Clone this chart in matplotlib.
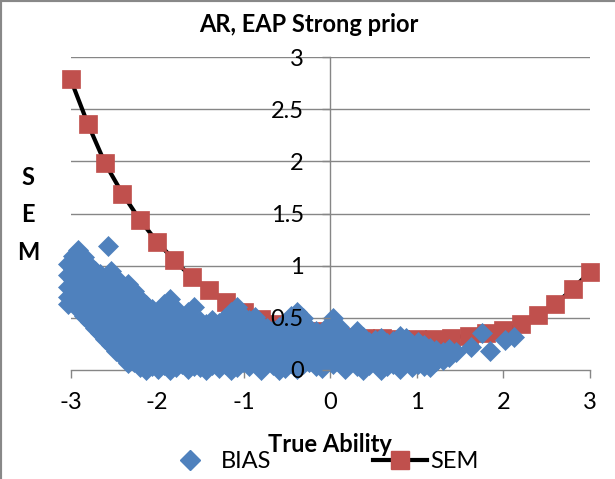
import matplotlib
matplotlib.use("Agg")
import matplotlib.pyplot as plt
from matplotlib.lines import Line2D

plt.rcParams['font.family'] = ['Lato', 'DejaVu Sans']

# SEM curve over the ability grid
sem_x = [-3.0, -2.8, -2.6, -2.4, -2.2, -2.0, -1.8, -1.6, -1.4, -1.2, -1.0,
         -0.8, -0.6, -0.4, -0.2, 0.0, 0.2, 0.4, 0.6, 0.8, 1.0,
         1.2, 1.4, 1.6, 1.8, 2.0, 2.2, 2.4, 2.6, 2.8, 3.0]
sem_y = [2.79, 2.36, 1.98, 1.69, 1.44, 1.23, 1.05, 0.89, 0.77, 0.65, 0.56,
         0.49, 0.44, 0.40, 0.37, 0.34, 0.32, 0.31, 0.31, 0.30, 0.30,
         0.30, 0.31, 0.33, 0.35, 0.38, 0.44, 0.53, 0.63, 0.78, 0.94]

# Absolute bias of the individual estimates, grouped by true ability
bias_groups_x = [
    -3.03, -2.97, -2.91, -2.84, -2.78, -2.72, -2.66, -2.57, -2.60, -2.53,
    -2.47, -2.41, -2.34, -2.27, -2.20, -2.13, -2.06, -1.99, -1.92, -1.85,
    -1.78, -1.71, -1.64, -1.57, -1.50, -1.43, -1.36, -1.29, -1.22, -1.15,
    -1.08, -1.01, -0.94, -0.87, -0.80, -0.73, -0.66, -0.59, -0.52, -0.45,
    -0.38, -0.31, -0.24, -0.17, -0.10, -0.03, 0.03, 0.10, 0.17, 0.24,
    0.31, 0.38, 0.45, 0.52, 0.59, 0.66, 0.73, 0.80, 0.87, 0.94,
    1.01, 1.08, 1.15, 1.22, 1.30, 1.37, 1.45, 1.62, 1.75, 1.85,
    2.02, 2.12,
]
bias_groups_y = [
    [1.02, 0.91, 0.80, 0.70, 0.63],
    [1.09, 0.97, 0.86, 0.75, 0.66],
    [1.15, 1.03, 0.92, 0.81, 0.70, 0.58],
    [1.08, 0.97, 0.85, 0.74, 0.62, 0.52],
    [1.00, 0.90, 0.79, 0.66, 0.55, 0.46],
    [0.95, 0.84, 0.72, 0.61, 0.50, 0.40],
    [0.92, 0.80, 0.68, 0.56, 0.45, 0.35],
    [1.19],
    [0.86, 0.74, 0.62, 0.50, 0.40, 0.30],
    [0.95, 0.83, 0.70, 0.58, 0.46, 0.35, 0.24],
    [0.88, 0.76, 0.64, 0.52, 0.41, 0.30, 0.18],
    [0.80, 0.68, 0.57, 0.45, 0.34, 0.23, 0.13],
    [0.82, 0.71, 0.60, 0.48, 0.37, 0.26, 0.15, 0.07],
    [0.76, 0.64, 0.52, 0.41, 0.30, 0.19, 0.08],
    [0.68, 0.56, 0.45, 0.34, 0.23, 0.12, 0.03],
    [0.62, 0.50, 0.39, 0.28, 0.17, 0.07, 0.00],
    [0.58, 0.47, 0.36, 0.25, 0.14, 0.04],
    [0.55, 0.44, 0.33, 0.22, 0.11, 0.01],
    [0.63, 0.50, 0.38, 0.27, 0.16, 0.05],
    [0.68, 0.56, 0.44, 0.32, 0.20, 0.09, 0.00],
    [0.58, 0.46, 0.35, 0.24, 0.13, 0.03],
    [0.50, 0.39, 0.28, 0.17, 0.06],
    [0.56, 0.45, 0.33, 0.22, 0.11, 0.01],
    [0.60, 0.48, 0.37, 0.26, 0.15, 0.04],
    [0.47, 0.36, 0.25, 0.14, 0.03],
    [0.44, 0.33, 0.22, 0.11, 0.00],
    [0.48, 0.37, 0.26, 0.15, 0.05],
    [0.45, 0.34, 0.23, 0.12, 0.02],
    [0.50, 0.39, 0.28, 0.17, 0.06],
    [0.56, 0.44, 0.33, 0.21, 0.10, 0.00],
    [0.60, 0.48, 0.36, 0.25, 0.14, 0.03],
    [0.52, 0.41, 0.30, 0.19, 0.08],
    [0.48, 0.37, 0.26, 0.15, 0.04],
    [0.51, 0.40, 0.29, 0.18, 0.07],
    [0.43, 0.32, 0.21, 0.10, 0.00],
    [0.40, 0.29, 0.18, 0.08],
    [0.38, 0.27, 0.16, 0.05],
    [0.41, 0.30, 0.19, 0.09, 0.00],
    [0.45, 0.34, 0.23, 0.12, 0.02],
    [0.52, 0.40, 0.29, 0.18, 0.07],
    [0.56, 0.44, 0.33, 0.22, 0.11, 0.01],
    [0.50, 0.39, 0.28, 0.17, 0.06],
    [0.40, 0.29, 0.18, 0.08],
    [0.37, 0.26, 0.15, 0.04],
    [0.35, 0.24, 0.13, 0.02],
    [0.42, 0.31, 0.20, 0.09],
    [0.50, 0.39, 0.28, 0.17, 0.06],
    [0.41, 0.30, 0.19, 0.08],
    [0.34, 0.23, 0.12, 0.01],
    [0.30, 0.19, 0.08],
    [0.37, 0.26, 0.15, 0.04],
    [0.32, 0.21, 0.10, 0.00],
    [0.27, 0.16, 0.05],
    [0.29, 0.18, 0.07],
    [0.31, 0.20, 0.09, 0.00],
    [0.26, 0.15, 0.04],
    [0.28, 0.17, 0.06],
    [0.33, 0.22, 0.11, 0.01],
    [0.31, 0.20, 0.09],
    [0.25, 0.14, 0.03],
    [0.27, 0.16, 0.06],
    [0.24, 0.13, 0.04],
    [0.21, 0.11, 0.03],
    [0.19, 0.09],
    [0.17, 0.10],
    [0.20, 0.12],
    [0.17],
    [0.22],
    [0.35],
    [0.18],
    [0.29],
    [0.32],
]

x_ticks = [-3, -2, -1, 0, 1, 2, 3]
x_tick_labels = ['-3', '-2', '-1', '0', '1', '2', '3']
y_ticks = [0, 0.5, 1, 1.5, 2, 2.5, 3]
y_tick_labels = ['0', '0.5', '1', '1.5', '2', '2.5', '3']

bias_x = [x for x, ys in zip(bias_groups_x, bias_groups_y) for _ in ys]
bias_y = [y for ys in bias_groups_y for y in ys]

BLUE = '#4F81BD'
RED = '#C0504D'
GRID = '#868686'
FS = 17

fig = plt.figure(figsize=(6.15, 4.79), dpi=100)
ax = fig.add_axes([70.5 / 615, 109 / 479, 519.5 / 615, 313 / 479])
ax.set_xlim(-3, 3)
ax.set_ylim(0, 3)

# axes crossing at the origin
for side in ('top', 'right'):
    ax.spines[side].set_visible(False)
ax.spines['left'].set_position(('data', 0))
ax.spines['bottom'].set_position(('data', 0))
for side in ('left', 'bottom'):
    ax.spines[side].set_color(GRID)
    ax.spines[side].set_linewidth(1.0)
    ax.spines[side].set_zorder(1)

ax.set_xticks(x_ticks)
ax.set_xticklabels(x_tick_labels)
ax.set_yticks(y_ticks)
ax.set_yticklabels(y_tick_labels)
ax.tick_params(axis='x', direction='out', length=6, width=1, color=GRID,
               labelsize=FS, pad=10)
ax.tick_params(axis='y', direction='out', length=6, width=1, color=GRID,
               labelsize=FS, pad=13)

# horizontal gridlines sit under the data, value labels sit above it
for y in y_ticks[1:]:
    ax.axhline(y, color=GRID, linewidth=1.0, zorder=0.5)
ax.yaxis.set_zorder(6)

ax.plot(sem_x, sem_y, color='black', linewidth=3, marker='s', markersize=13.5,
        markerfacecolor=RED, markeredgecolor=RED, markeredgewidth=0.5,
        zorder=3, clip_on=False, label='SEM')
ax.plot(bias_x, bias_y, linestyle='none', marker='D', markersize=10,
        markerfacecolor=BLUE, markeredgecolor=BLUE, markeredgewidth=0.5,
        zorder=4, clip_on=False, label='BIAS')

fig.text(0.5016, 447 / 479, 'AR, EAP Strong prior', ha='center', va='baseline',
         fontsize=FS, fontweight='bold')
fig.text(28 / 615, 1 - 215 / 479, 'S\nE\nM', ha='center', va='center',
         fontsize=FS, fontweight='bold', linespacing=1.75)
fig.text(330 / 615, 27 / 479, 'True Ability', ha='center', va='baseline',
         fontsize=FS, fontweight='bold')

handles = [
    Line2D([], [], linestyle='none', marker='D', markersize=10,
           markerfacecolor=BLUE, markeredgecolor=BLUE),
    Line2D([], [], color='black', linewidth=3, marker='s', markersize=13,
           markerfacecolor=RED, markeredgecolor=RED),
]
fig.legend(handles, ['BIAS', 'SEM'], loc='center', ncol=2, frameon=False,
           bbox_to_anchor=(321 / 615, 17 / 479), fontsize=FS,
           handlelength=2.3, handletextpad=0.15, columnspacing=4.3,
           borderpad=0, borderaxespad=0)

# outer frame (top and left edges)
fig.add_artist(Line2D([0, 0], [0, 1], transform=fig.transFigure,
                      color='#888888', linewidth=3))
fig.add_artist(Line2D([0, 1], [1, 1], transform=fig.transFigure,
                      color='#888888', linewidth=3))

fig.savefig('out.png', dpi=100)
